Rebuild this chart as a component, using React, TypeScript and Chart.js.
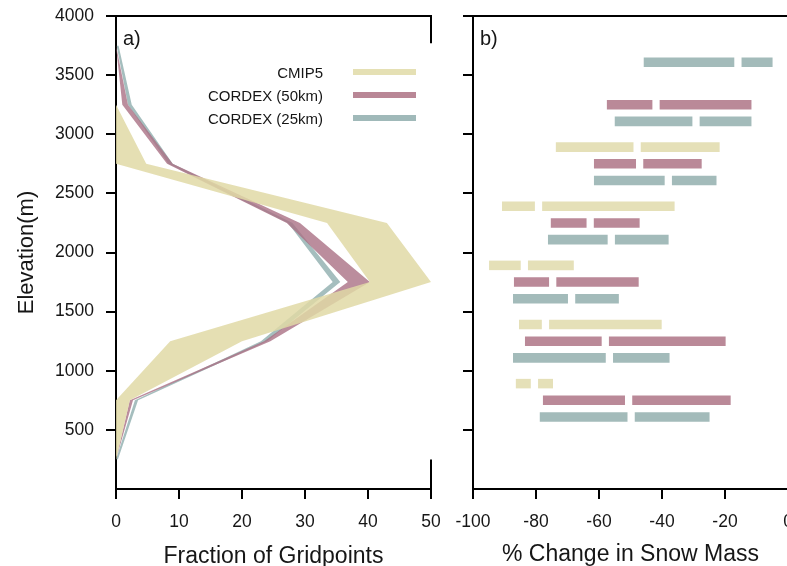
import React, { useEffect, useRef } from "react";
import { Chart, registerables } from "chart.js";

Chart.register(...registerables);

// ---------------- data ----------------
// elevation bins (m), top to bottom
const ELEVATIONS = [3750, 3250, 2750, 2250, 1750, 1250, 750, 250];
const SERIES_NAMES = ["CMIP5", "CORDEX (50km)", "CORDEX (25km)"];

// panel a) fraction of gridpoints (%) : lower / upper edge of each ensemble envelope
const CMIP5_LOW = [0, 0, 0, 33.5, 40.3, 8.6, 0, 0];
const CMIP5_HIGH = [0, 0, 4.8, 43, 50, 20, 2.2, 0];
const C50_LOW = [0, 1.0, 8.1, 27.1, 36.8, 23.5, 2.2, 0];
const C50_HIGH = [0, 1.9, 9.0, 29.2, 40.3, 24.5, 2.7, 0];
const C25_LOW = [0.1, 1.9, 8.3, 27.3, 34.4, 23.0, 3.0, 0];
const C25_HIGH = [0.4, 2.5, 9.0, 28.0, 35.6, 24.0, 3.5, 0.3];

// panel b) % change in snow mass : min / median / max per elevation bin
const CMIP5_MIN = [null, null, -73.7, -90.8, -94.9, -85.4, -86.4, null];
const CMIP5_MED = [null, null, -47.9, -79.2, -83.7, -77.0, -80.5, null];
const CMIP5_MAX = [null, null, -21.7, -36.0, -68.0, -40.1, -74.6, null];
const C50_MIN = [null, -57.5, -61.6, -75.3, -87.0, -83.5, -77.8, null];
const C50_MED = [null, -41.9, -47.1, -62.8, -74.7, -58.0, -50.6, null];
const C50_MAX = [null, -11.6, -27.4, -47.1, -47.4, -19.8, -18.2, null];
const C25_MIN = [-45.8, -55.0, -61.6, -76.2, -87.3, -87.3, -78.8, null];
const C25_MED = [-15.9, -29.2, -38.0, -56.1, -68.7, -56.7, -49.8, null];
const C25_MAX = [-4.9, -11.6, -22.7, -37.9, -53.7, -37.6, -24.9, null];

const X_TICKS_A = [0, 10, 20, 30, 40, 50];
const X_TICKS_B = [-100, -80, -60, -40, -20, 0];
const Y_TICKS = [0, 500, 1000, 1500, 2000, 2500, 3000, 3500, 4000];

// ---------------- style ----------------
const FONT = "'Liberation Sans', Arial, Helvetica, sans-serif";
const TXT = "#161616";
const BAND_COLORS = ["rgba(224,217,166,0.85)", "rgba(170,112,132,0.8)", "rgba(135,168,168,0.75)"];
const BAR_COLORS = ["rgb(229,224,184)", "rgb(186,137,152)", "rgb(163,187,186)"];
const LEGEND_COLORS = ["rgb(229,224,180)", "rgb(185,135,150)", "rgb(160,185,185)"];
const GAP = 2.3; // white gap at the median, in % units
const RIGHT_FRAME_A = [[3770, 4000], [0, 250]];

Chart.defaults.font.family = FONT;
Chart.defaults.color = TXT;

const noTick = "rgba(0,0,0,0)";

function panelPlugin(letter: string, legend: boolean, rightFrame: number[][] | null) {
  return {
    id: "panel_" + letter.replace(")", ""),
    afterDraw(chart: any) {
      const { ctx, chartArea: a } = chart;
      ctx.save();
      ctx.strokeStyle = "#000";
      ctx.lineWidth = 2;
      ctx.beginPath();
      ctx.moveTo(a.left, a.top);
      ctx.lineTo(a.right + 1, a.top);
      ctx.stroke();
      if (rightFrame) {
        const ys = chart.scales.y;
        for (const [e0, e1] of rightFrame) {
          ctx.beginPath();
          ctx.moveTo(a.right, ys.getPixelForValue(e0));
          ctx.lineTo(a.right, ys.getPixelForValue(e1));
          ctx.stroke();
        }
      }
      ctx.fillStyle = TXT;
      ctx.textBaseline = "middle";
      ctx.textAlign = "left";
      ctx.font = `20px ${FONT}`;
      ctx.fillText(letter, a.left + 7, a.top + 23);
      if (legend) {
        ctx.font = `15px ${FONT}`;
        ctx.textAlign = "right";
        SERIES_NAMES.forEach((name, i) => {
          const y = a.top + 56 + i * 23;
          ctx.fillStyle = TXT;
          ctx.fillText(name, a.right - 108, y + 2);
          ctx.fillStyle = LEGEND_COLORS[i];
          ctx.fillRect(a.right - 78, y - 3, 63, 6);
        });
      }
      ctx.restore();
    },
  };
}

function bandData(values: number[]) {
  return values.map((v, i) => ({ x: v, y: ELEVATIONS[i] }));
}

function segments(min: (number | null)[], med: (number | null)[], max: (number | null)[], side: number) {
  return min.map((lo, i) => {
    const m = med[i];
    const hi = max[i];
    if (lo === null || m === null || hi === null) return null;
    return side === 0 ? [lo, m - GAP / 2] : [m + GAP / 2, hi];
  });
}

const tickFont = { size: 17.5, family: FONT };
const titleFont = { size: 23, family: FONT, lineHeight: 0.8 };

const fitX = (s: any) => { s.height = 77; s.paddingLeft = 0; s.paddingRight = 0; };

export default function App() {
  const refA = useRef<HTMLCanvasElement>(null);
  const refB = useRef<HTMLCanvasElement>(null);

  useEffect(() => {
    const bands = [
      [CMIP5_HIGH, CMIP5_LOW],
      [C50_HIGH, C50_LOW],
      [C25_HIGH, C25_LOW],
    ];
    const lineSets: any[] = [];
    bands.forEach(([hi, lo], k) => {
      lineSets.push({
        label: SERIES_NAMES[k],
        data: bandData(hi as number[]),
        fill: "+1",
        backgroundColor: BAND_COLORS[k],
        borderWidth: 0,
        pointRadius: 0,
        tension: 0,
      });
      lineSets.push({
        label: SERIES_NAMES[k] + " low",
        data: bandData(lo as number[]),
        fill: false,
        backgroundColor: BAND_COLORS[k],
        borderWidth: 0,
        pointRadius: 0,
        tension: 0,
      });
    });

    const chartA = new Chart(refA.current as HTMLCanvasElement, {
      type: "line",
      data: { datasets: lineSets },
      options: {
        indexAxis: "y",
        animation: false,
        responsive: false,
        layout: { padding: { top: 16, right: 21, left: 0, bottom: 0 } },
        plugins: { legend: { display: false }, tooltip: { enabled: false } },
        scales: {
          x: {
            type: "linear",
            min: 0,
            max: 50,
            afterBuildTicks: (s: any) => { s.ticks = X_TICKS_A.map((v) => ({ value: v })); },
            afterFit: fitX,
            grid: { drawOnChartArea: false, drawTicks: true, tickLength: 10, lineWidth: 2, color: "#000" },
            border: { display: true, color: "#000", width: 2 },
            ticks: { font: tickFont, padding: 13, color: TXT, maxRotation: 0 },
            title: { display: true, text: "Fraction of Gridpoints", font: titleFont, color: TXT, padding: { top: 0, bottom: 0 } },
          },
          y: {
            type: "linear",
            min: 0,
            max: 4000,
            afterBuildTicks: (s: any) => { s.ticks = Y_TICKS.map((v) => ({ value: v })); },
            afterFit: (s: any) => { s.width = 116; s.paddingTop = 0; s.paddingBottom = 0; },
            grid: {
              drawOnChartArea: false,
              drawTicks: true,
              tickLength: 10,
              lineWidth: 2,
              color: (c: any) => (c.tick && c.tick.value === 0 ? noTick : "#000"),
            },
            border: { display: true, color: "#000", width: 2 },
            ticks: {
              font: tickFont,
              padding: 12,
              color: TXT,
              callback: (v: any) => (v === 0 ? "" : String(v)),
            },
            title: { display: true, text: "Elevation(m)", font: { size: 22, family: FONT, lineHeight: 1 }, color: TXT, padding: { top: 16, bottom: 0 } },
          },
        },
      },
      plugins: [panelPlugin("a)", true, RIGHT_FRAME_A)],
    } as any);

    const groups: [any[], any[], any[]][] = [
      [CMIP5_MIN, CMIP5_MED, CMIP5_MAX],
      [C50_MIN, C50_MED, C50_MAX],
      [C25_MIN, C25_MED, C25_MAX],
    ];
    const barSets: any[] = [];
    groups.forEach(([mn, md, mx], k) => {
      [0, 1].forEach((side) => {
        barSets.push({
          label: SERIES_NAMES[k] + (side ? " upper" : " lower"),
          data: segments(mn, md, mx, side),
          stack: "s" + k,
          backgroundColor: BAR_COLORS[k],
          borderWidth: 0,
          categoryPercentage: 0.847,
          barPercentage: 0.57,
        });
      });
    });

    const chartB = new Chart(refB.current as HTMLCanvasElement, {
      type: "bar",
      data: { labels: ELEVATIONS.map(String), datasets: barSets },
      options: {
        indexAxis: "y",
        animation: false,
        responsive: false,
        layout: { padding: { top: 16, right: 72, left: 0, bottom: 0 } },
        plugins: { legend: { display: false }, tooltip: { enabled: false } },
        scales: {
          x: {
            type: "linear",
            min: -100,
            max: 0,
            stacked: false,
            afterBuildTicks: (s: any) => { s.ticks = X_TICKS_B.map((v) => ({ value: v })); },
            afterFit: fitX,
            grid: { drawOnChartArea: false, drawTicks: true, tickLength: 10, lineWidth: 2, color: "#000" },
            border: { display: true, color: "#000", width: 2 },
            ticks: { font: tickFont, padding: 13, color: TXT, maxRotation: 0 },
            title: { display: true, text: "% Change in Snow Mass", font: titleFont, color: TXT, padding: { top: 0, bottom: 2 } },
          },
          y: {
            type: "category",
            stacked: true,
            offset: true,
            afterFit: (s: any) => { s.width = 33; s.paddingTop = 0; s.paddingBottom = 0; },
            grid: {
              offset: true,
              drawOnChartArea: false,
              drawTicks: true,
              tickLength: 10,
              lineWidth: 2,
              color: (c: any) => (c.type === "scale" ? noTick : "#000"),
            },
            border: { display: true, color: "#000", width: 2 },
            ticks: { display: false },
          },
        },
      },
      plugins: [panelPlugin("b)", false, null)],
    } as any);

    return () => {
      chartA.destroy();
      chartB.destroy();
    };
  }, []);

  return (
    <div style={{ position: "fixed", left: 0, top: 0, width: 787, height: 566, overflow: "hidden", background: "#fff" }}>
      <canvas ref={refA} width={452} height={566} style={{ position: "absolute", left: 0, top: 0, display: "block" }} />
      <canvas ref={refB} width={420} height={566} style={{ position: "absolute", left: 440, top: 0, display: "block" }} />
    </div>
  );
}
